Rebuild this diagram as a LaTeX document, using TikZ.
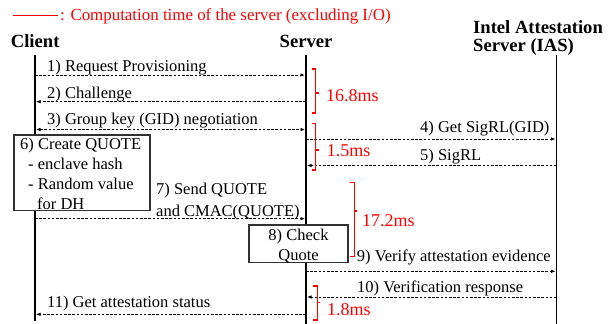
\documentclass[tikz,border=0pt]{standalone}
\usepackage{fontspec}
\setmainfont{Liberation Serif}
\usetikzlibrary{arrows.meta}

\definecolor{timered}{RGB}{255,0,0}
\definecolor{boxgray}{RGB}{50,50,50}

\tikzset{
  lifeline/.style={line width=1.9pt, black},
  msg/.style={line width=0.8pt, dash pattern=on 2.6pt off 1.6pt,
              -{Latex[length=4.5pt,width=3.6pt]}, shorten >=1pt},
  bimsg/.style={msg, {Latex[length=4.5pt,width=3.6pt]}-{Latex[length=4.5pt,width=3.6pt]}, shorten <=1pt},
  lbl/.style={inner sep=0pt, anchor=base west, font=\fontsize{16.5}{20}\selectfont},
  head/.style={inner sep=0pt, anchor=base west, font=\fontsize{18.6}{17.7}\selectfont\bfseries, align=left},
  timelbl/.style={inner sep=0pt, anchor=base west, text=timered, font=\fontsize{18}{20}\selectfont},
  bracket/.style={draw=timered, line width=1.1pt},
  stepbox/.style={draw=boxgray, line width=1.1pt, fill=white, inner sep=0pt},
}

\begin{document}
\begin{tikzpicture}[x=1pt, y=-1pt]
\useasboundingbox (0,0) rectangle (614,324);

% legend
\coordinate (legA) at (13,15);
\coordinate (legB) at (58,15);
\draw[timered, line width=0.9pt] (legA) -- (legB);
\node[lbl, text=timered, font=\fontsize{16.9}{20}\selectfont] (legend) at (60,20)
  {: Computation time of the server (excluding I/O)};

% participants (multi-line nodes are placed by the baseline of their last line)
\node[head] (hClient) at (10.7,47.5) {Client};
\node[head, anchor=base] (hServer) at (306,47.5) {Server};
\node[head] (hIAS) at (473,51) {Intel Attestation\\Server (IAS)};

% lifelines
\coordinate (clientTop) at (35,55);   \coordinate (clientBot) at (35,321);
\coordinate (serverTop) at (306,55);  \coordinate (serverBot) at (306,324);
\coordinate (iasTop)    at (556.5,55);\coordinate (iasBot)    at (556.5,324);
\draw[lifeline] (clientTop) -- (clientBot);
\draw[lifeline] (serverTop) -- (serverBot);
\draw[lifeline] (iasTop) -- (iasBot);

% message end points on the lifelines
\foreach \n/\y in {1/75, 2/101.7, 3/129.5, 4/139, 5/165.5, 7/218.7, 9/271.3, 10/297, 11/314.3} {
  \coordinate (c\n) at (35,\y);
  \coordinate (s\n) at (306,\y);
  \coordinate (i\n) at (556.5,\y);
}

% processing boxes
\node[stepbox, minimum width=136pt, minimum height=75.7pt] (create) at (82,172.85) {};
\node[lbl, align=left, font=\fontsize{16.5}{20.3}\selectfont] (createTxt) at (20,209.9)
  {6) Create QUOTE\\\hspace*{8pt}- enclave hash\\\hspace*{8pt}- Random value\\\hspace*{17pt}for DH};
\node[stepbox, minimum width=99pt, minimum height=37.7pt] (check) at (298.5,243.85) {};
\node[lbl, anchor=base, align=center, font=\fontsize{16.5}{20.5}\selectfont] (checkTxt) at (298.5,260.5)
  {8) Check\\Quote};

% messages
\draw[msg] (c1) -- (s1);
\node[lbl] (l1) at (47,71) {1) Request Provisioning};
\draw[msg] (s2) -- (c2);
\node[lbl] (l2) at (47,98.5) {2) Challenge};
\draw[bimsg] (c3) -- (s3);
\node[lbl] (l3) at (47,124.5) {3) Group key (GID) negotiation};
\draw[msg] (s4) -- (i4);
\node[lbl] (l4) at (420,132.6) {4) Get SigRL(GID)};
\draw[msg] (i5) -- (s5);
\node[lbl] (l5) at (420,160) {5) SigRL};
\draw[msg] (c7) -- (s7);
\node[lbl, align=left, font=\fontsize{16.5}{22}\selectfont] (l7) at (156,216) {7) Send QUOTE\\and CMAC(QUOTE)};
\draw[msg] (s9) -- (i9);
\node[lbl] (l9) at (356.7,261) {9) Verify attestation evidence};
\draw[msg] (i10) -- (s10);
\node[lbl] (l10) at (357,292.5) {10) Verification response};
\draw[msg] (s11) -- (c11);
\node[lbl] (l11) at (47,307.5) {11) Get attestation status};

% server computation times
\draw[bracket] (311.7,69) -- (315.6,69) -- (315.6,113) -- (311.7,113);
\draw[bracket] (315.6,93) -- (318.6,93);
\node[timelbl] (t1) at (326,101.7) {16.8ms};

\draw[bracket] (311.7,123.3) -- (315.6,123.3) -- (315.6,170) -- (311.7,170);
\draw[bracket] (315.6,150) -- (318.6,150);
\node[timelbl] (t2) at (326.7,156) {1.5ms};

\draw[bracket] (350.3,182.3) -- (354.3,182.3) -- (354.3,256.7) -- (350.3,256.7);
\draw[bracket] (354.3,211) -- (357.3,211);
\node[timelbl] (t3) at (362,226) {17.2ms};

\draw[bracket] (313.3,286) -- (317.3,286) -- (317.3,320) -- (313.3,320);
\draw[bracket] (317.3,302.7) -- (320.3,302.7);
\node[timelbl] (t4) at (327,315) {1.8ms};
\end{tikzpicture}
\end{document}
